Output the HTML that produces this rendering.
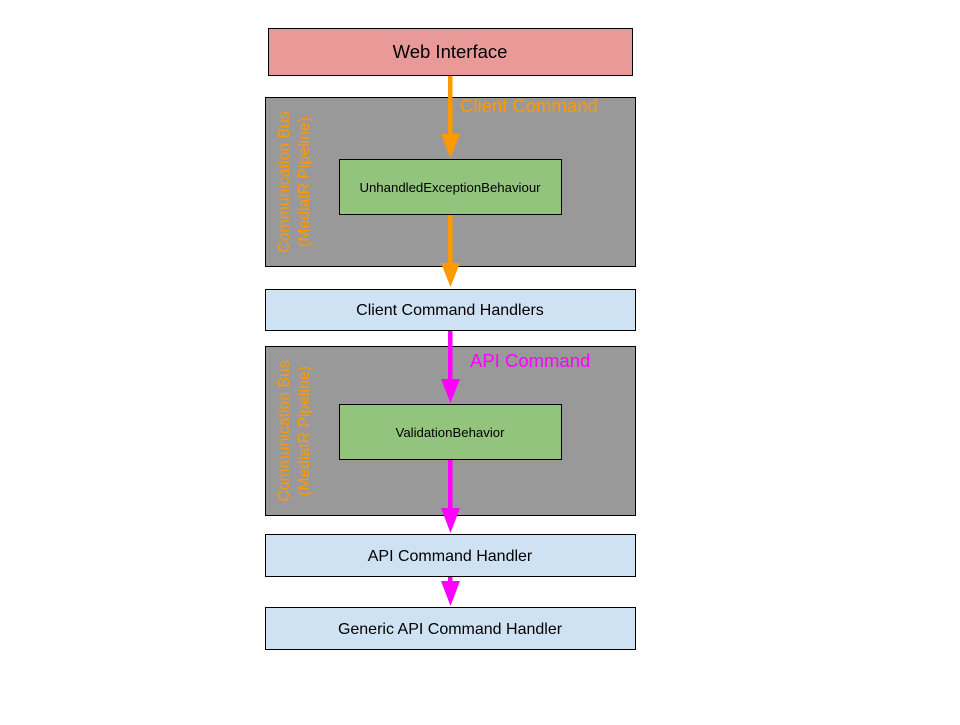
<!DOCTYPE html>
<html><head><meta charset="utf-8"><style>
body{margin:0;background:#fff;}
svg text{font-family:"Liberation Sans",Arial,sans-serif;}
</style></head><body>
<svg width="960" height="720" viewBox="0 0 960 720" xmlns="http://www.w3.org/2000/svg">
<rect x="0" y="0" width="960" height="720" fill="#fff"/>
<rect x="268.5" y="28.5" width="364" height="47" fill="#ea9999" stroke="#000" stroke-width="1"/>
<text x="450" y="58" font-size="18.5" text-anchor="middle" fill="#000">Web Interface</text>

<rect x="265.5" y="97.5" width="370" height="169" fill="#999999" stroke="#000" stroke-width="1"/>
<g transform="translate(294,182) rotate(-90)" fill="#ff9900" font-size="15.8" text-anchor="middle">
<text x="0" y="-5">Communication Bus</text>
<text x="0" y="15">(MediatR Pipeline)</text>
</g>
<rect x="339.5" y="159.5" width="222" height="55" fill="#93c47d" stroke="#000" stroke-width="1"/>
<text x="450" y="192" font-size="13.2" text-anchor="middle" fill="#000">UnhandledExceptionBehaviour</text>
<text x="460" y="112" font-size="18.5" fill="#ff9900">Client Command</text>

<rect x="265.5" y="289.5" width="370" height="41" fill="#cfe2f3" stroke="#000" stroke-width="1"/>
<text x="450" y="315" font-size="16" text-anchor="middle" fill="#000">Client Command Handlers</text>

<rect x="265.5" y="346.5" width="370" height="169" fill="#999999" stroke="#000" stroke-width="1"/>
<g transform="translate(294,431) rotate(-90)" fill="#ff9900" font-size="15.8" text-anchor="middle">
<text x="0" y="-5">Communication Bus</text>
<text x="0" y="15">(MediatR Pipeline)</text>
</g>
<rect x="339.5" y="404.5" width="222" height="55" fill="#93c47d" stroke="#000" stroke-width="1"/>
<text x="450" y="437" font-size="13.2" text-anchor="middle" fill="#000">ValidationBehavior</text>
<text x="470" y="367" font-size="18.5" fill="#ff00ff">API Command</text>

<rect x="265.5" y="534.5" width="370" height="42" fill="#cfe2f3" stroke="#000" stroke-width="1"/>
<text x="450" y="561" font-size="16" text-anchor="middle" fill="#000">API Command Handler</text>
<rect x="265.5" y="607.5" width="370" height="42" fill="#cfe2f3" stroke="#000" stroke-width="1"/>
<text x="450" y="634" font-size="16" text-anchor="middle" fill="#000">Generic API Command Handler</text>

<g fill="#ff9900" stroke="none">
<rect x="448" y="76" width="4.5" height="60"/>
<polygon points="441,134 460,134 450.5,158"/>
<rect x="448" y="215" width="4.5" height="50"/>
<polygon points="441,263 460,263 450.5,287"/>
</g>
<g fill="#ff00ff" stroke="none">
<rect x="448" y="331" width="4.5" height="50"/>
<polygon points="441,379 460,379 450.5,403"/>
<rect x="448" y="460" width="4.5" height="50"/>
<polygon points="441,508 460,508 450.5,533"/>
<rect x="448" y="577" width="4.5" height="6"/>
<polygon points="441,581 460,581 450.5,606"/>
</g>
</svg>
</body></html>
